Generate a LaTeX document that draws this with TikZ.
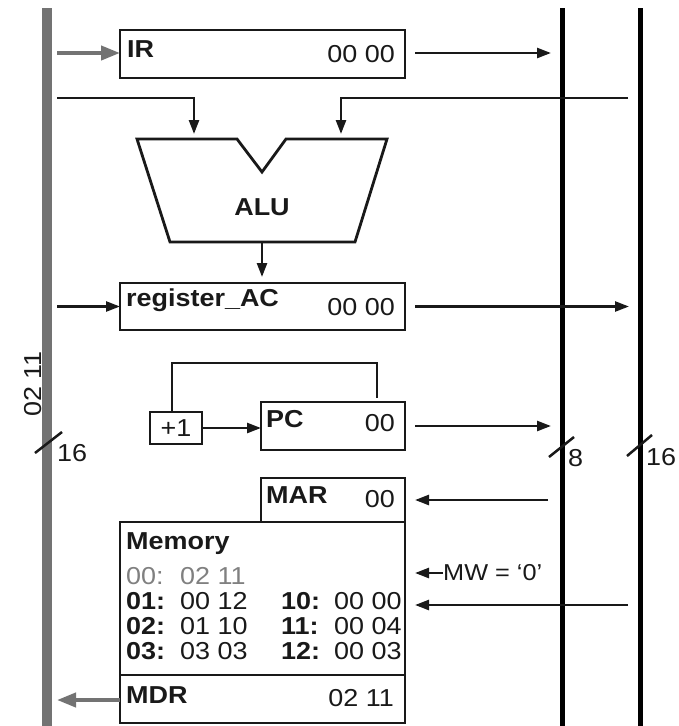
\documentclass[tikz,border=0pt]{standalone}
\usepackage{fontspec}
\setmainfont{Liberation Sans}[FakeStretch=1.1]
\usetikzlibrary{arrows.meta}
\definecolor{busgray}{gray}{0.45}
\definecolor{boxline}{gray}{0.1}
\definecolor{memgray}{gray}{0.5}
\begin{document}
\begin{tikzpicture}[x=1pt,y=-1pt,
  font=\fontsize{24.5}{26}\selectfont,
  box/.style={draw=boxline,line width=2.8pt,inner sep=0pt,outer sep=0pt,anchor=north west,fill=white},
  lbl/.style={font=\fontsize{24.5}{26}\selectfont\bfseries,inner sep=0pt,anchor=base west,text=boxline},
  val/.style={inner sep=0pt,anchor=base east,text=boxline},
  memtxt/.style={inner sep=0pt,anchor=base west,text=boxline},
  membold/.style={inner sep=0pt,anchor=base west,text=boxline,font=\fontsize{24.5}{26}\selectfont\bfseries},
  wire/.style={line width=2.5pt,draw=boxline,-{Triangle[length=14pt,width=10pt]}},
  plainwire/.style={line width=2.5pt,draw=boxline},
  graywire/.style={line width=4pt,draw=busgray,-{Triangle[length=19pt,width=14pt]}},
  bus/.style={line width=5pt,draw=black},
  slash/.style={line width=2.5pt,draw=boxline}
]
\useasboundingbox (0,0) rectangle (678,726);
\fill[white] (0,0) rectangle (678,726);

% buses
\coordinate (lbt) at (47,8); \coordinate (lbb) at (47,726);
\coordinate (mbt) at (562,8); \coordinate (mbb) at (562,726);
\coordinate (rbt) at (640,8); \coordinate (rbb) at (640,726);
\draw[line width=10pt,draw=busgray] (lbt) -- (lbb);
\draw[bus] (mbt) -- (mbb);
\draw[bus] (rbt) -- (rbb);

% IR
\node[box,minimum width=285pt,minimum height=48pt] (ir) at (120,30) {};
\node[lbl] (irl) at (127,57) {IR};
\node[val] (irv) at (395,62) {00 00};
\coordinate (irin) at (57,53);
\draw[graywire] (irin) -- (ir.west |- irin);
\coordinate (irout) at (551,53);
\draw[wire] ([xshift=10pt]ir.east |- irout) -- (irout);

% ALU
\draw[draw=boxline,line width=2.8pt,line join=miter,fill=white]
  (137,139) -- (237,139) -- (262,172) -- (286,139) -- (387,139) -- (355,242) -- (170,242) -- cycle;
\node[font=\fontsize{24.5}{26}\selectfont\bfseries,text=boxline] (alu) at (262,207) {ALU};
\coordinate (a1) at (57,98); \coordinate (a1d) at (194,134);
\coordinate (a2) at (628,98); \coordinate (a2d) at (341,134);
\draw[wire] (a1) -| (a1d);
\draw[wire] (a2) -| (a2d);

% register_AC
\node[box,minimum width=285pt,minimum height=47pt] (ac) at (120,283) {};
\node[lbl] (acl) at (126,306) {register\_AC};
\node[val] (acv) at (395,315) {00 00};
\coordinate (alub) at (262,243);
\draw[wire,shorten >=6pt] (alub) -- (alub |- ac.north);
\coordinate (acin) at (57,306.5);
\draw[wire] (acin) -- (ac.west);
\coordinate (acout) at (629,306.5);
\draw[wire] ([xshift=10pt]ac.east) -- (acout);

% +1 and PC
\node[box,minimum width=52pt,minimum height=32pt] (inc) at (150,412) {};
\node[inner sep=0pt,text=boxline] (incl) at (inc.center) {+1};
\node[box,minimum width=144pt,minimum height=48pt] (pc) at (261,402) {};
\node[lbl] (pcl) at (266,427) {PC};
\node[val] (pcv) at (395,431) {00};
\coordinate (lpa) at (172,363); \coordinate (lpb) at (377,363); \coordinate (lpc) at (377,398);
\draw[plainwire] ([xshift=-4pt]inc.north) |- (lpb) -- (lpc);
\draw[wire] (inc.east) -- (pc.west |- inc.east);
\coordinate (pcout) at (551,426);
\draw[wire] ([xshift=10pt]pc.east) -- (pcout);

% bus width marks
\coordinate (s1a) at (35,453); \coordinate (s1b) at (62,432);
\draw[slash] (s1a) -- (s1b);
\node[memtxt] (w1) at (57,461) {16};
\coordinate (s2a) at (549,457); \coordinate (s2b) at (574,437);
\draw[slash] (s2a) -- (s2b);
\node[memtxt] (w2) at (568,466) {8};
\coordinate (s3a) at (627,456); \coordinate (s3b) at (652,435);
\draw[slash] (s3a) -- (s3b);
\node[memtxt] (w3) at (646,465) {16};
\node[rotate=90,inner sep=0pt,text=boxline] (busval) at (33,384) {02 11};

% MAR
\node[box,minimum width=144pt,minimum height=44pt] (mar) at (261,478) {};
\node[lbl] (marl) at (266,503) {MAR};
\node[val] (marv) at (395,507) {00};
\coordinate (marin) at (548,500);
\draw[wire] (marin) -- ([xshift=10pt]mar.east);

% Memory
\node[box,minimum width=285pt,minimum height=153pt] (mem) at (120,522) {};
\node[membold] (meml) at (126,549) {Memory};
\node[memtxt,text=memgray] (r0a) at (126,584) {00:};
\node[memtxt,text=memgray] (r0b) at (180,584) {02 11};
\node[membold] (r1a) at (126,609) {01:};
\node[memtxt] (r1b) at (180,609) {00 12};
\node[membold] (r2a) at (126,634) {02:};
\node[memtxt] (r2b) at (180,634) {01 10};
\node[membold] (r3a) at (126,659) {03:};
\node[memtxt] (r3b) at (180,659) {03 03};
\node[membold] (r4a) at (281,609) {10:};
\node[memtxt] (r4b) at (334,609) {00 00};
\node[membold] (r5a) at (281,634) {11:};
\node[memtxt] (r5b) at (334,634) {00 04};
\node[membold] (r6a) at (281,659) {12:};
\node[memtxt] (r6b) at (334,659) {00 03};

\node[memtxt,anchor=west,font=\fontsize{23}{25}\selectfont] (mw) at (443,573) {MW = `0'};
\coordinate (mwtip) at (415,573);
\draw[wire] (mw.west) -- (mwtip);
\coordinate (din) at (628,605); \coordinate (dtip) at (415,605);
\draw[wire] (din) -- (dtip);

% MDR
\node[box,minimum width=285pt,minimum height=48pt] (mdr) at (120,675) {};
\node[lbl] (mdrl) at (126,703) {MDR};
\node[val] (mdrv) at (394,706) {02 11};
\coordinate (mdrout) at (57,700);
\draw[graywire] (mdr.west |- mdrout) -- (mdrout);
\end{tikzpicture}
\end{document}
